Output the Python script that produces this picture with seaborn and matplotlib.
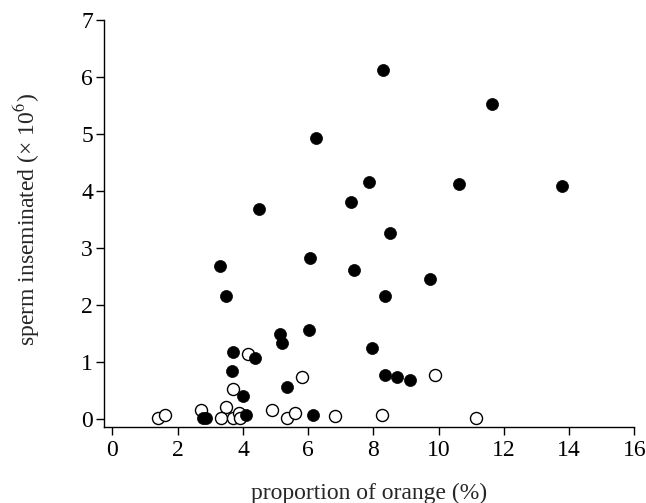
import pandas as pd
import matplotlib.pyplot as plt
import seaborn as sns

# filled circles
filled_x = [8.28, 6.24, 7.87, 10.63, 7.31, 4.49, 8.52, 3.29, 6.07, 7.39, 9.73, 3.49, 8.37,
            11.64, 13.78, 5.13, 5.20, 6.02, 3.68, 4.38, 3.65, 4.00, 5.35, 6.14, 4.10, 2.78, 2.88,
            7.96, 8.36, 8.72, 9.13]
filled_y = [6.13, 4.93, 4.16, 4.12, 3.81, 3.68, 3.27, 2.69, 2.82, 2.61, 2.45, 2.16, 2.16,
            5.53, 4.09, 1.49, 1.33, 1.56, 1.17, 1.08, 0.84, 0.40, 0.57, 0.08, 0.08, 0.02, 0.02,
            1.24, 0.78, 0.73, 0.68]

# open circles
open_x = [4.16, 3.68, 5.82, 1.40, 1.61, 2.72, 3.48, 3.32, 3.68, 3.88, 3.90, 4.89, 5.35,
          5.59, 6.83, 9.88, 8.27, 11.14]
open_y = [1.15, 0.53, 0.73, 0.02, 0.08, 0.16, 0.22, 0.01, 0.01, 0.11, 0.01, 0.16, 0.02,
          0.10, 0.05, 0.78, 0.08, 0.01]

xticks = [0, 2, 4, 6, 8, 10, 12, 14, 16]
yticks = [0, 1, 2, 3, 4, 5, 6, 7]

sns.set_style("ticks")
plt.rcParams['font.family'] = ['Liberation Serif', 'DejaVu Serif']
plt.rcParams['mathtext.fontset'] = 'stix'

fig = plt.figure(figsize=(6.46, 5.03), dpi=100)
ax = fig.add_axes([0.161, 0.151, 0.821, 0.809])

df_f = pd.DataFrame({'x': filled_x, 'y': filled_y})
df_o = pd.DataFrame({'x': open_x, 'y': open_y})
sns.scatterplot(data=df_o, x='x', y='y', ax=ax, s=75, facecolor='white',
                edgecolor='black', linewidth=1.0, zorder=3)
sns.scatterplot(data=df_f, x='x', y='y', ax=ax, s=75, color='black',
                edgecolor='black', linewidth=0.5, zorder=4)

ax.set_xlim(-0.26, 16)
ax.set_ylim(-0.14, 7)
ax.set_xticks(xticks)
ax.set_yticks(yticks)
ax.tick_params(direction='out', length=6, width=1, labelsize=17, colors='black')
ax.tick_params(axis='x', pad=3)
ax.tick_params(axis='y', pad=2)
for s in ['top', 'right']:
    ax.spines[s].set_visible(False)
for s in ['left', 'bottom']:
    ax.spines[s].set_linewidth(1)
    ax.spines[s].set_color('black')

ax.set_xlabel('proportion of orange (%)', fontsize=17, labelpad=16)
ax.set_ylabel('sperm inseminated (× 10$^6$)', fontsize=17)
ax.yaxis.set_label_coords(-0.117, 0.51)

fig.savefig('out.png', dpi=100)
